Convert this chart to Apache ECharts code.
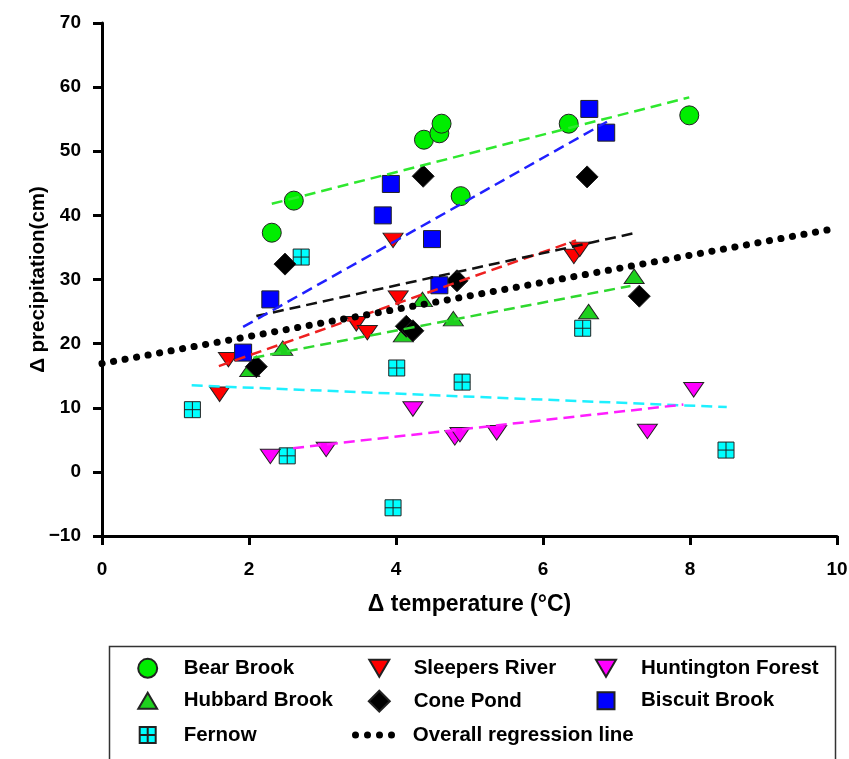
<!DOCTYPE html>
<html>
<head>
    <meta charset="UTF-8">
    <title>Δ precipitation vs Δ temperature</title>
    <script src="https://cdn.jsdelivr.net/npm/echarts@6.0.0/dist/echarts.min.js"></script>
    <style>
        html, body { margin: 0; padding: 0; background: #fff; }
        #main { width: 849px; height: 759px; }
    </style>
</head>
<body>
<div id="main"></div>
<script type="text/javascript">
    // 各站点数据 [Δ温度, Δ降水]
    var bearBrook = [[2.31, 37.3], [2.61, 42.3], [4.38, 51.8], [4.59, 52.8], [4.62, 54.3], [4.88, 43.0], [6.35, 54.3], [7.99, 55.6]];
    var hubbardBrook = [[2.01, 16.0], [2.46, 19.3], [4.10, 21.4], [4.36, 26.9], [4.78, 23.9], [6.62, 25.0], [7.24, 30.5]];
    var fernow = [[1.23, 9.7], [2.52, 2.5], [2.71, 33.5], [3.96, -5.6], [4.01, 16.2], [4.90, 14.0], [6.54, 22.4], [8.49, 3.4]];
    var sleepersRiver = [[1.60, 12.1], [1.72, 17.5], [3.46, 23.1], [3.61, 21.7], [3.96, 36.1], [4.03, 27.1], [6.42, 33.6], [6.50, 34.7]];
    var conePond = [[2.10, 16.4], [2.49, 32.4], [4.14, 22.7], [4.23, 22.0], [4.37, 46.1], [4.83, 29.8], [6.60, 46.0], [7.31, 27.4]];
    var huntingtonForest = [[2.29, 2.4], [3.05, 3.5], [4.23, 9.8], [4.80, 5.3], [4.87, 5.8], [5.37, 6.1], [7.42, 6.3], [8.05, 12.8]];
    var biscuitBrook = [[1.92, 18.6], [2.29, 26.9], [3.82, 40.0], [3.93, 44.9], [4.49, 36.3], [4.59, 29.1], [6.63, 56.6], [6.86, 52.9]];

    // 各站点回归线端点
    var bearBrookFit = [[2.31, 41.8], [7.99, 58.4]];
    var hubbardBrookFit = [[2.06, 17.8], [7.19, 29.0]];
    var fernowFit = [[1.22, 13.5], [8.50, 10.1]];
    var sleepersRiverFit = [[1.59, 16.5], [6.45, 36.1]];
    var conePondFit = [[2.10, 24.3], [7.23, 37.2]];
    var huntingtonForestFit = [[2.60, 3.7], [7.91, 10.5]];
    var biscuitBrookFit = [[1.92, 22.6], [6.87, 54.6]];
    var overallFit = [[0, 16.9], [10, 38.0]];

    // 坐标轴刻度
    var xTicks = [0, 2, 4, 6, 8, 10];
    var yTicks = [-10, 0, 10, 20, 30, 40, 50, 60, 70];

    var FONT = '"Liberation Sans", Arial, sans-serif';

    // 符号
    var UP_TRI = 'path://M10,0L20,17L0,17Z';
    var DOWN_TRI = 'path://M0,0L20,0L10,17Z';
    var DIAMOND = 'path://M11,0L22,11L11,22L0,11Z';
    var SQUARE = 'path://M0,0H10V10H0Z';
    var CROSS_SQUARE = 'path://M0,0H10V10H0Z M5,0V10 M0,5H10';
    var DOTS = 'path://M0,3.5a3.5,3.5 0 1,0 7,0a3.5,3.5 0 1,0 -7,0Z' +
        'M12,3.5a3.5,3.5 0 1,0 7,0a3.5,3.5 0 1,0 -7,0Z' +
        'M24,3.5a3.5,3.5 0 1,0 7,0a3.5,3.5 0 1,0 -7,0Z' +
        'M36,3.5a3.5,3.5 0 1,0 7,0a3.5,3.5 0 1,0 -7,0Z';

    function scatter(name, data, symbol, size, color) {
        return {
            name: name,
            type: 'scatter',
            data: data,
            symbol: symbol,
            symbolSize: size,
            symbolKeepAspect: true,
            z: 3,
            itemStyle: { color: color, borderColor: '#222', borderWidth: 1, opacity: 1 }
        };
    }

    function fit(name, data, color) {
        return {
            name: name,
            type: 'line',
            data: data,
            symbol: 'none',
            z: 4,
            silent: true,
            lineStyle: { color: color, width: 2.5, type: [11, 6] }
        };
    }

    // 图例：每项单独定位
    function legendItem(name, cx, cy, textX, iconW, iconH, icon) {
        var w = 2 * (textX - cx - 5);
        return {
            data: [icon ? { name: name, icon: icon } : name],
            left: cx - iconW / 2,
            top: cy - 11,
            itemWidth: w,
            itemHeight: iconH,
            symbolKeepAspect: true,
            padding: 0,
            selectedMode: false,
            textStyle: { fontFamily: FONT, fontWeight: 'bold', fontSize: 20.5, color: '#000', lineHeight: 22 }
        };
    }

    var axisCommon = {
        type: 'value',
        nameLocation: 'middle',
        nameMoveOverlap: false,
        axisLine: { show: true, onZero: false, lineStyle: { color: '#000', width: 3 } },
        axisTick: { show: true, inside: false, length: 9, lineStyle: { color: '#000', width: 3 } },
        axisLabel: {
            fontFamily: FONT, fontWeight: 'bold', fontSize: 19, color: '#000',
            formatter: function (v) { return String(v).replace('-', '\u2212'); }
        },
        splitLine: { show: false }
    };

    var myChart = echarts.init(document.getElementById('main'), null, { renderer: 'canvas' });

    var option = {
        animation: false,
        backgroundColor: '#fff',
        grid: {
            left: 102, right: 12, top: 23, bottom: 223,
            containLabel: false,
            outerBoundsMode: 'none'
        },
        xAxis: echarts.util.merge({
            min: xTicks[0],
            max: xTicks[xTicks.length - 1],
            interval: xTicks[1] - xTicks[0],
            name: 'Δ temperature (°C)',
            nameGap: 57,
            nameTextStyle: { fontFamily: FONT, fontWeight: 'bold', fontSize: 23, color: '#000' },
            axisLabel: { margin: 24 }
        }, axisCommon),
        yAxis: echarts.util.merge({
            min: yTicks[0],
            max: yTicks[yTicks.length - 1],
            interval: yTicks[1] - yTicks[0],
            name: 'Δ precipitation(cm)',
            nameGap: 53,
            nameTextStyle: { fontFamily: FONT, fontWeight: 'bold', fontSize: 20.5, color: '#000' },
            axisLabel: { margin: 21 }
        }, axisCommon),
        legend: [
            legendItem('Bear Brook', 146.7, 668.3, 182.7, 19, 19),
            legendItem('Hubbard Brook', 146.7, 700.7, 182.7, 18.8, 16, UP_TRI),
            legendItem('Fernow', 146.7, 735, 182.7, 16, 16, CROSS_SQUARE),
            legendItem('Sleepers River', 378.3, 668.3, 412.7, 20, 17, DOWN_TRI),
            legendItem('Cone Pond', 378.3, 700.7, 412.7, 21, 21, DIAMOND),
            legendItem('Overall regression line', 373.5, 735, 412.7, 43, 7, DOTS),
            legendItem('Huntington Forest', 605, 668.3, 640, 20, 17, DOWN_TRI),
            legendItem('Biscuit Brook', 605, 700.7, 640, 17, 17, SQUARE)
        ],
        graphic: [{
            type: 'rect',
            left: 107, top: 644,
            shape: { width: 726, height: 140 },
            style: { fill: 'none', stroke: '#333', lineWidth: 1.5 },
            silent: true,
            z: -1
        }],
        series: [
            scatter('Bear Brook', bearBrook, 'circle', 19, '#00ee00'),
            scatter('Hubbard Brook', hubbardBrook, UP_TRI, [20, 17], '#1ed01e'),
            scatter('Fernow', fernow, CROSS_SQUARE, 16, '#00ffff'),
            scatter('Sleepers River', sleepersRiver, DOWN_TRI, [20, 17], '#ff0000'),
            scatter('Cone Pond', conePond, DIAMOND, 22, '#000000'),
            scatter('Huntington Forest', huntingtonForest, DOWN_TRI, [20, 17], '#ff00ff'),
            scatter('Biscuit Brook', biscuitBrook, SQUARE, 17, '#0000ff'),

            fit('Bear Brook fit', bearBrookFit, '#2ee82e'),
            fit('Hubbard Brook fit', hubbardBrookFit, '#2ed82e'),
            fit('Fernow fit', fernowFit, '#1ef0ff'),
            fit('Sleepers River fit', sleepersRiverFit, '#ee2020'),
            fit('Cone Pond fit', conePondFit, '#111111'),
            fit('Huntington Forest fit', huntingtonForestFit, '#ff1eff'),
            fit('Biscuit Brook fit', biscuitBrookFit, '#2020ff'),
            {
                name: 'Overall regression line',
                type: 'line',
                data: overallFit,
                symbol: 'none',
                z: 5,
                silent: true,
                itemStyle: { color: '#000' },
                lineStyle: { color: '#000', width: 7, type: [0.1, 11.6], cap: 'round' }
            }
        ]
    };
    myChart.setOption(option);
</script>
</body>
</html>
